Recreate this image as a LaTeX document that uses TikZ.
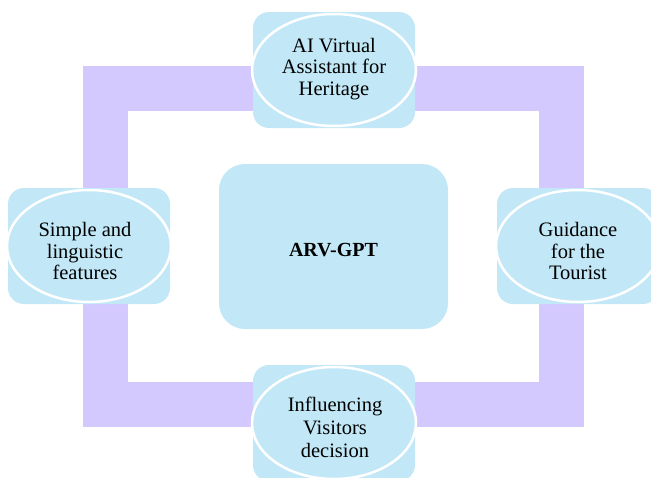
\documentclass[tikz,border=0pt]{standalone}
\usepackage{fontspec}
\setmainfont{Liberation Serif}
\usetikzlibrary{shapes.geometric}
\definecolor{framepurple}{RGB}{211,201,254}
\definecolor{boxblue}{RGB}{194,232,247}
\begin{document}
\begin{tikzpicture}[x=1pt,y=-1pt,
  tile/.style={fill=boxblue, rounded corners=16pt, minimum width=162pt,
    minimum height=116pt, inner sep=0pt},
  oval/.style={ellipse, draw=white, line width=2.5pt, fill=boxblue,
    minimum width=164pt, minimum height=112pt, inner sep=0pt},
  label/.style={align=center, inner sep=0pt,
    font=\fontsize{20.5}{21.5}\selectfont},
  hub/.style={fill=boxblue, rounded corners=26pt, minimum width=229pt,
    minimum height=165pt, inner sep=0pt},
  hubtext/.style={inner sep=0pt, font=\fontsize{20}{22}\selectfont\bfseries}]
\useasboundingbox (0,0) rectangle (651,477);
\clip (0,0) rectangle (651,477);
% purple frame linking the four outer tiles
\draw[framepurple, line width=45pt, line join=miter] (105.5,88.5) rectangle (561,404.5);
% central tile
\node[hub] (hub) at (333.5,246.5) {};
\node[hubtext] (hubcaption) at (333.5,250) {ARV-GPT};
% outer tiles with their ovals and captions
\node[tile] (topbox) at (334,70) {};
\node[oval] (top) at (topbox) {};
\node[label] (toptext) at (334,69) {AI Virtual\\Assistant for\\Heritage};
\node[tile] (leftbox) at (89,246) {};
\node[oval] (left) at (leftbox) {};
\node[label] (lefttext) at (85,251) {Simple and\\linguistic\\features};
\node[tile] (rightbox) at (578,246) {};
\node[oval] (right) at (rightbox) {};
\node[label] (righttext) at (578,251) {Guidance\\for the\\Tourist};
\node[tile] (botbox) at (334,423) {};
\node[oval] (bot) at (botbox) {};
\node[label, font=\fontsize{20.5}{23}\selectfont] (bottext) at (335,427) {Influencing\\Visitors\\decision};
\end{tikzpicture}
\end{document}
